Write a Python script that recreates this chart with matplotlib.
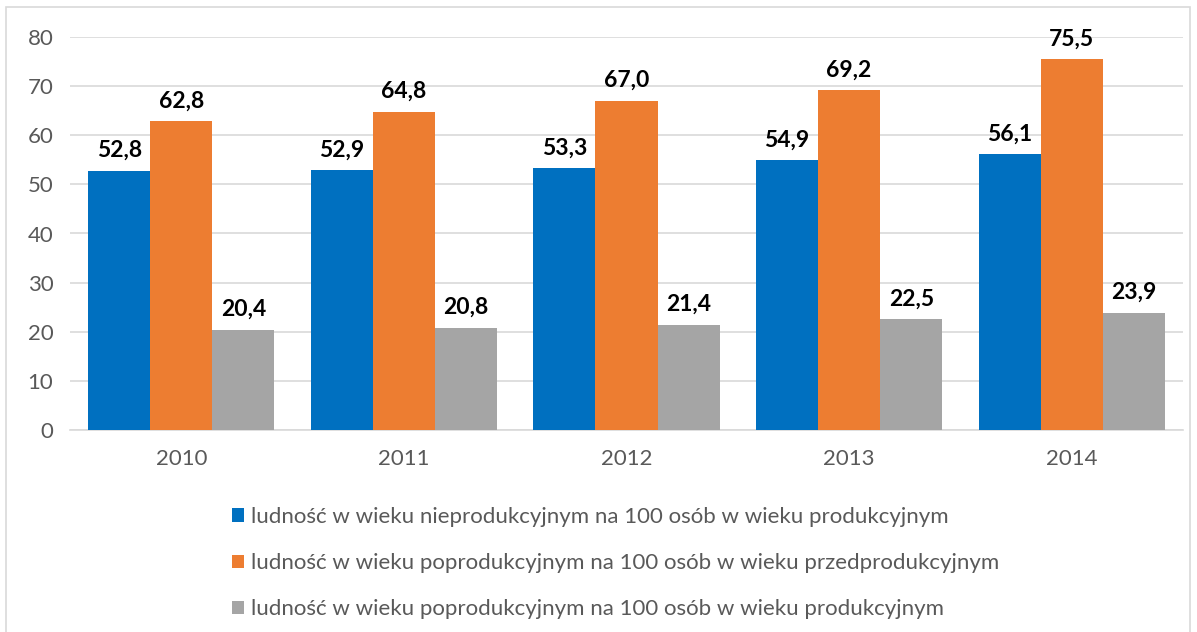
import matplotlib
matplotlib.use('Agg')
import matplotlib.pyplot as plt
from matplotlib.patches import Rectangle
import numpy as np

plt.rcParams['font.family'] = ['Lato', 'DejaVu Sans']

years = ['2010', '2011', '2012', '2013', '2014']
nieprod = [52.8, 52.9, 53.3, 54.9, 56.1]
poprod_przed = [62.8, 64.8, 67.0, 69.2, 75.5]
poprod_prod = [20.4, 20.8, 21.4, 22.5, 23.9]
series_labels = [
    'ludność w wieku nieprodukcyjnym na 100 osób w wieku produkcyjnym',
    'ludność w wieku poprodukcyjnym na 100 osób w wieku przedprodukcyjnym',
    'ludność w wieku poprodukcyjnym na 100 osób w wieku produkcyjnym',
]
colors = ['#0070C0', '#ED7D31', '#A5A5A5']
yticks = [0, 10, 20, 30, 40, 50, 60, 70, 80]

fig = plt.figure(figsize=(11.97, 6.32), dpi=100)
fig.patch.set_facecolor('white')
fig.patches.append(Rectangle((6/1197, -0.01), 1184/1197, 1 - 7/632 + 0.01,
                             transform=fig.transFigure, fill=False,
                             edgecolor='#D9D9D9', linewidth=1.2))

ax = fig.add_axes([70/1197, 202/632, 1113/1197, 393/632])
x = np.arange(len(years))
w = 0.279
handles = []
for k, (vals, c) in enumerate(zip([nieprod, poprod_przed, poprod_prod], colors)):
    bars = ax.bar(x + (k - 1) * w, vals, w, color=c, zorder=3)
    handles.append(bars)
    for xi, v in zip(x + (k - 1) * w, vals):
        ax.annotate(f'{v:.1f}'.replace('.', ','), (xi, v), xytext=(0, 7),
                    textcoords='offset points', ha='center', va='bottom',
                    fontsize=16.5, fontweight='bold', color='black')

ax.set_xlim(-0.5, len(years) - 0.5)
ax.set_ylim(0, 80)
ax.set_yticks(yticks)
ax.set_xticks(x)
ax.set_xticklabels(years)
ax.yaxis.grid(True, color='#D9D9D9', linewidth=1.2, zorder=0)
for s in ['top', 'right', 'left']:
    ax.spines[s].set_visible(False)
ax.spines['bottom'].set_color('#D9D9D9')
ax.spines['bottom'].set_linewidth(1.2)
ax.tick_params(length=0, labelsize=16, colors='#595959')
ax.tick_params(axis='y', pad=12)
ax.tick_params(axis='x', pad=14)

fig.legend(handles, series_labels, loc='upper left',
           bbox_to_anchor=(212/1197, 1 - 487/632), frameon=False,
           fontsize=16, labelcolor='#595959', handlelength=0.55, handleheight=0.55,
           handletextpad=0.3, labelspacing=1.18)

fig.savefig('out.png', dpi=100, facecolor='white')
